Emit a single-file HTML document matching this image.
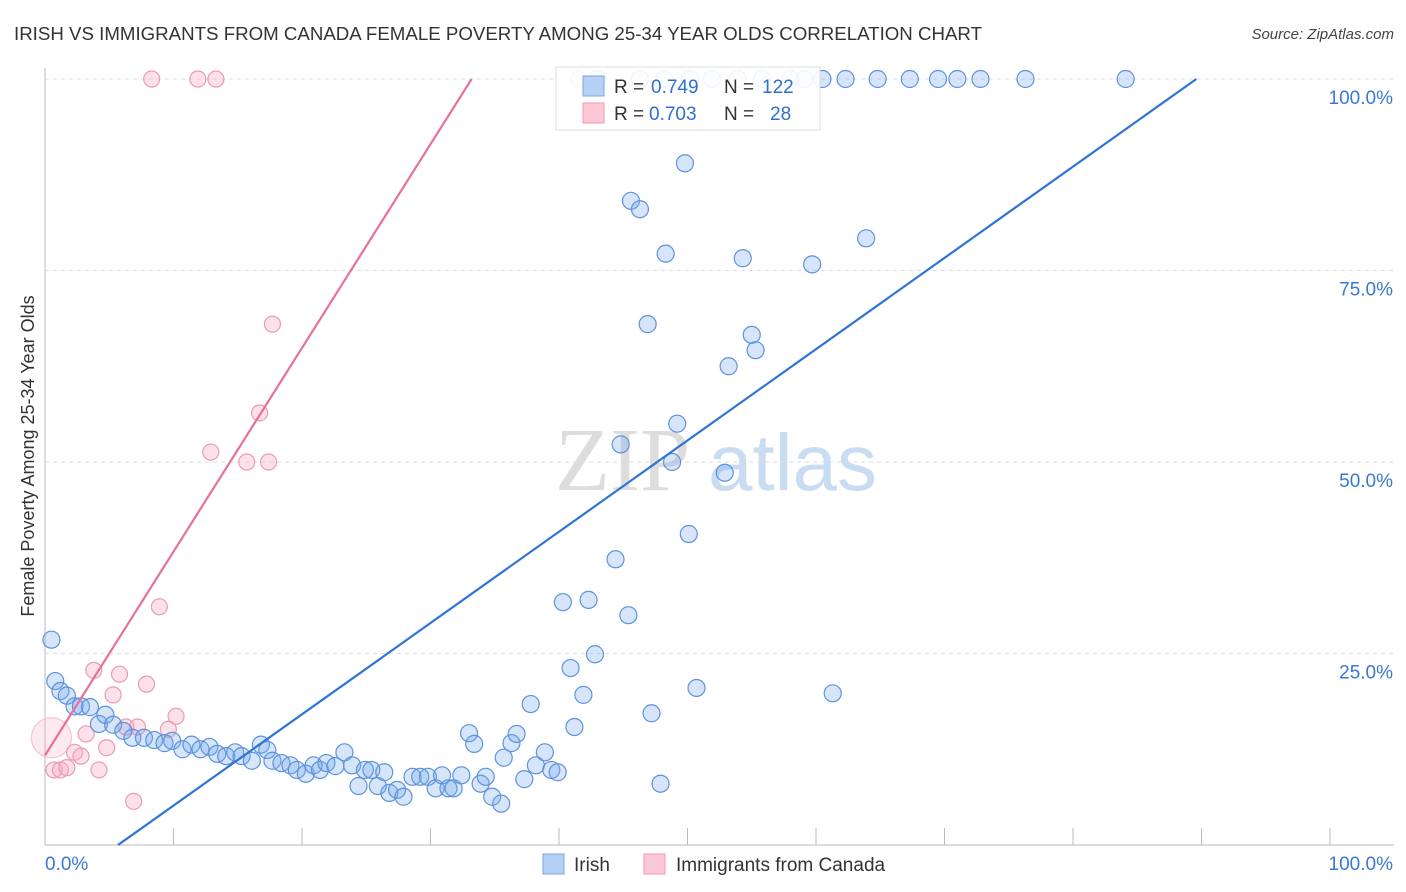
<!DOCTYPE html>
<html><head><meta charset="utf-8"><style>
body{margin:0;background:#fff;}
svg{display:block;font-family:"Liberation Sans",sans-serif;}
</style></head><body>
<svg id="chart" width="1406" height="892" viewBox="0 0 1406 892" xmlns="http://www.w3.org/2000/svg">
<text x="14" y="40" font-size="18" fill="#333" textLength="968" lengthAdjust="spacingAndGlyphs">IRISH VS IMMIGRANTS FROM CANADA FEMALE POVERTY AMONG 25-34 YEAR OLDS CORRELATION CHART</text>
<text x="1394" y="39" font-size="15" fill="#444" text-anchor="end" font-style="italic">Source: ZipAtlas.com</text>
<g>
<text x="555" y="490" font-size="90" font-family="Liberation Serif,serif" fill="#ddd">ZIP</text>
<text x="708" y="490" font-size="80" fill="#c8dcf2">atlas</text>
</g>
<g id="grid"></g>
<g id="axes"></g>
<g id="points"></g>
<g id="lines"></g>
<g>
<rect x="556" y="67" width="264" height="63" fill="#fff" fill-opacity="0.9" stroke="#ddd"/>
<rect x="583" y="76" width="21" height="20" fill="#b5d1f5" stroke="#7aa6e0"/>
<text x="614" y="93" font-size="19" fill="#333">R = </text><text x="651" y="93" font-size="19" fill="#2f6fd0">0.749</text>
<text x="724" y="93" font-size="19" fill="#333">N = </text><text x="762" y="93" font-size="19" fill="#2f6fd0">122</text>
<rect x="583" y="103" width="21" height="20" fill="#fcc8d6" stroke="#ef9ab2"/>
<text x="614" y="120" font-size="19" fill="#333">R = </text><text x="649" y="120" font-size="19" fill="#2f6fd0">0.703</text>
<text x="724" y="120" font-size="19" fill="#333">N = </text><text x="770" y="120" font-size="19" fill="#2f6fd0">28</text>
</g>
<g>
<rect x="543" y="854" width="21" height="20" fill="#b5d1f5" stroke="#7aa6e0"/>
<text x="574" y="871" font-size="19" fill="#333">Irish</text>
<rect x="644" y="854" width="21" height="20" fill="#fcc8d6" stroke="#ef9ab2"/>
<text x="676" y="871" font-size="19" fill="#333">Immigrants from Canada</text>
</g>
<text transform="translate(34,456) rotate(-90)" font-size="18" fill="#333" text-anchor="middle">Female Poverty Among 25-34 Year Olds</text>
</svg>
<script>
const yTicks=[25,50,75,100];
const yTickLabels=["25.0%","50.0%","75.0%","100.0%"];
const xTickLabels=["0.0%","100.0%"];
const irishX=[43.0,46.3,48.2,50.2,51.9,53.9,55.8,58.0,59.1,60.5,62.3,64.8,67.3,69.5,71.0,72.8,76.3,84.1,
49.8,45.6,46.3,48.3,54.3,59.7,63.9,46.9,55.0,55.3,53.2,49.2,44.8,48.8,52.9,50.1,44.4,40.3,42.3,45.4,50.7,61.3,47.2,47.9,
0.5,0.8,1.2,1.7,2.3,2.8,3.5,4.2,4.7,5.3,6.1,6.8,7.7,8.5,9.3,9.9,10.7,11.4,12.1,12.8,13.4,14.1,14.8,15.3,16.1,16.8,17.3,17.7,18.4,19.1,19.6,20.3,20.9,21.4,21.9,22.6,23.3,23.9,24.4,24.9,25.4,25.9,26.4,26.8,27.4,27.9,28.6,29.2,29.8,30.4,30.9,31.4,31.8,32.4,33.0,33.4,33.9,34.3,34.8,35.5,35.7,36.3,36.7,37.3,37.8,38.2,38.9,39.4,39.9,40.9,41.9,41.2,42.8];
const irishY=[100,100,100,100,100,100,100,100,100,100,100,100,100,100,100,100,100,100,
89.0,84.1,83.0,77.2,76.6,75.8,79.2,68.0,66.6,64.6,62.5,55.0,52.3,50.0,48.6,40.6,37.3,31.7,32.0,30.0,20.5,19.8,17.2,8.0,
26.8,21.4,20.1,19.5,18.1,18.1,18.0,15.8,17.0,15.7,14.9,14.0,14.0,13.7,13.3,13.6,12.5,13.1,12.5,12.8,11.9,11.6,12.1,11.6,11.0,13.1,12.4,11.0,10.7,10.4,9.8,9.3,10.4,9.8,10.7,10.3,12.1,10.4,7.7,9.8,9.8,7.7,9.5,6.8,7.2,6.3,8.9,8.9,8.9,7.4,9.1,7.4,7.4,9.1,14.6,13.2,8.0,8.9,6.3,5.4,11.4,13.3,14.5,8.6,18.4,10.4,12.1,9.8,9.5,23.1,19.6,15.4,24.9];
const canadaX=[0.5,0.7,1.2,1.7,2.3,2.8,3.8,5.8,5.3,7.9,3.2,4.8,4.2,6.3,7.2,9.6,10.2,6.9,8.9,12.9,15.7,17.4,16.7,17.7,8.3,11.9,13.3,41.5];
const canadaY=[14.0,9.8,9.8,10.1,12.1,11.6,22.8,22.3,19.6,21.0,14.5,12.7,9.8,15.4,15.4,15.1,16.8,5.7,31.1,51.3,50.0,50.0,56.4,68.0,100,100,100,100];
const canadaSize=[2.5,1,1,1,1,1,1,1,1,1,1,1,1,1,1,1,1,1,1,1,1,1,1,1,1,1,1,1];
const irishLine=[5.68,0,89.6,100];
const canadaLine=[0,11.7,33.2,100];
const X0=45,X1=1330,Y0=845,Y1=79;
const sx=v=>X0+(X1-X0)*v/100, sy=v=>Y0-(Y0-Y1)*v/100;
const NS="http://www.w3.org/2000/svg";
function mk(tag,attrs,parent){const e=document.createElementNS(NS,tag);for(const k in attrs)e.setAttribute(k,attrs[k]);parent.appendChild(e);return e;}
const grid=document.getElementById('grid'),axes=document.getElementById('axes'),pts=document.getElementById('points'),lines=document.getElementById('lines');
yTicks.forEach((t,i)=>{
 const l=mk('line',{x1:X0,x2:1394,y1:sy(t),y2:sy(t),stroke:'#ddd','stroke-dasharray':'4,4'},grid);
 
 
 const tx=mk('text',{x:1393,y:sy(t)+25,'font-size':19,fill:'#3a78d4','text-anchor':'end'},axes);
 tx.textContent=yTickLabels[i];
 
 
});
const ax=mk('path',{d:`M${X0},68V${Y0}H1394`,stroke:'#bbb',fill:'none'},axes);


for(let i=1;i<=10;i++){
 const t=mk('line',{x1:sx(i*10),x2:sx(i*10),y1:Y0-17,y2:Y0,stroke:'#bbb'},axes);
 
 
}
[[0,'start',45],[100,'end',1393]].forEach((d,i)=>{
 const tx=mk('text',{x:d[2],y:870,'font-size':19,fill:'#3a78d4','text-anchor':d[1]},axes);
 tx.textContent=xTickLabels[i];
 
 
});
canadaX.forEach((x,i)=>{
 const big=canadaSize[i]>1;
 const c=mk('circle',{cx:sx(x),cy:sy(canadaY[i]),r:8*canadaSize[i],fill:big?'rgba(248,170,195,0.25)':'rgba(248,170,195,0.35)',stroke:big?'#f5c3d2':'#eb9bb3','stroke-width':1.2},pts);
 
 
});
irishX.forEach((x,i)=>{
 const c=mk('circle',{cx:sx(x),cy:sy(irishY[i]),r:8.5,fill:'rgba(120,170,235,0.3)',stroke:'#5d93dc','stroke-width':1.2},pts);
 
 
});
const bl=mk('line',{x1:sx(irishLine[0]),y1:sy(irishLine[1]),x2:sx(irishLine[2]),y2:sy(irishLine[3]),stroke:'#2f74d6','stroke-width':2.2},lines);


const pl=mk('line',{x1:sx(canadaLine[0]),y1:sy(canadaLine[1]),x2:sx(canadaLine[2]),y2:sy(canadaLine[3]),stroke:'#e8709a','stroke-width':2.2},lines);


</script>
</body></html>
